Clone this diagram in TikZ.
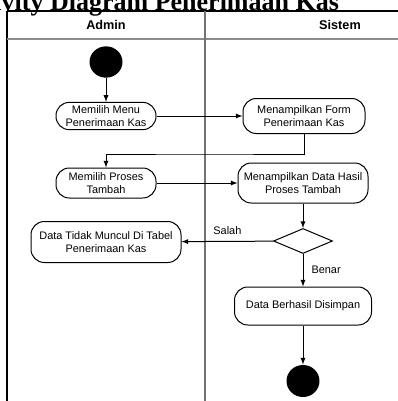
\documentclass[tikz,border=0pt]{standalone}
\usepackage{fontspec}
\setmainfont{Liberation Sans}
\newfontfamily\titlefont{Liberation Serif}
\usepackage{tikz}
\usetikzlibrary{shapes.geometric}
\usetikzlibrary{positioning}
\usetikzlibrary{calc}
\tikzset{every picture/.style={line width=0.75pt}}

\begin{document}
\begin{tikzpicture}[x=0.75pt,y=-0.75pt,
  act/.style={draw,rounded corners=10pt,align=center,inner sep=0pt,font=\fontsize{8.2}{9.4}\selectfont},
  dot/.style={ellipse,fill=black,inner sep=0pt,minimum width=24.75pt,minimum height=23.5pt},
  lbl/.style={font=\fontsize{8.2}{9.4}\selectfont,inner sep=0pt}]
\useasboundingbox (0,0) rectangle (398,401);
% title, cut at the top of the page
\node (tt) at (-45,10) [anchor=base west,inner sep=0pt,font=\titlefont\bfseries\fontsize{19.5}{22}\selectfont] {Activity Diagram Penerimaan Kas};
% swimlanes
\draw[line width=1pt] (7,11) -- (398,11);
\draw[line width=1.5pt] (7,11) -- (7,401);
\draw[line width=1.2pt,black!45] (7,39) -- (398,39);
\draw[line width=1.5pt,black!55] (205,11) -- (205,401);
\node (ha) at (106,25) [font=\bfseries\fontsize{9.5}{11}\selectfont] {Admin};
\node (hs) at (340,25) [font=\bfseries\fontsize{9.5}{11}\selectfont] {Sistem};
% activities
\node (st) at (106,62) [dot] {};
\node (mm) at ($(st)+(0,54)$) [act,minimum width=75pt,minimum height=20.5pt] {Memilih Menu\\Penerimaan Kas};
\node (mf) at ($(st)+(198,54)$) [act,minimum width=91.5pt,minimum height=26.25pt] {Menampilkan Form\\Penerimaan Kas};
\node (mp) at ($(st)+(0,121)$) [act,minimum width=75pt,minimum height=22.5pt] {Memilih Proses\\Tambah};
\node (mh) at ($(st)+(197,121)$) [act,minimum width=97.5pt,minimum height=30pt] {Menampilkan Data Hasil\\Proses Tambah};
\node (dc) at ($(st)+(197,179)$) [diamond,draw,inner sep=0pt,minimum width=44.25pt,minimum height=18.75pt] {};
\node (dt) at ($(st)+(0,180)$) [act,minimum width=112.5pt,minimum height=30.75pt] {Data Tidak Muncul Di Tabel\\Penerimaan Kas};
\node (ds) at ($(st)+(197,244)$) [act,minimum width=102.75pt,minimum height=28.5pt] {Data Berhasil Disimpan};
\node (en) at ($(st)+(197,319)$) [dot,minimum height=24pt] {};
\coordinate (c1) at ($(mf.south)+(-100,20)$);
% flows
\draw[-latex] (st) -- (mm);
\draw[-latex] (mm) -- (mf);
\draw[-latex] (mf.south) |- (c1) -| (mp.north);
\draw[-latex] (mp) -- (mh);
\draw[-latex] (mh) -- (dc);
\draw[-latex] (dc) -- node[lbl,above=5pt] {Salah} (dt);
\draw[-latex] (dc) -- node[lbl,right=6pt] {Benar} (ds);
\draw[-latex] (ds) -- (en);
\end{tikzpicture}
\end{document}
